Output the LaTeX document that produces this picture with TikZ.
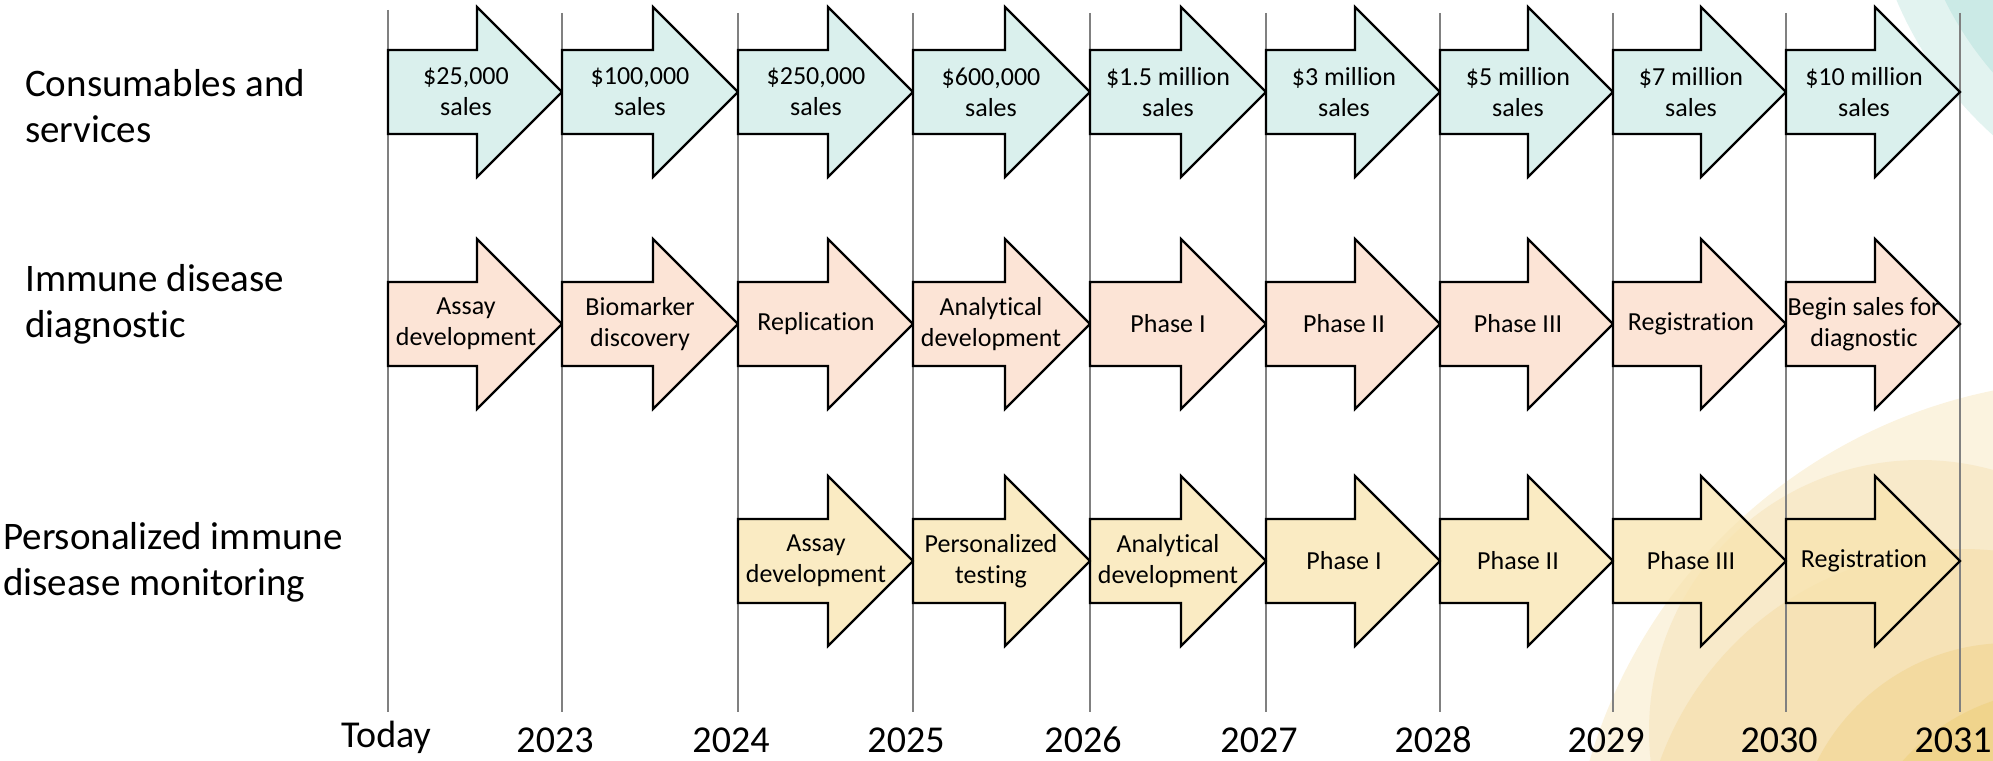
\documentclass[tikz,border=0pt]{standalone}
\usepackage{fontspec}
\setmainfont{Carlito}[Ligatures=NoCommon]
\definecolor{gridgray}{RGB}{128,128,128}
\definecolor{tealbox}{RGB}{218,240,237}
\definecolor{peachbox}{RGB}{252,228,214}
\definecolor{yellowbox}{RGB}{248,228,175}
\definecolor{tealringA}{RGB}{226,243,240}
\definecolor{tealringB}{RGB}{203,234,230}
\definecolor{sunA}{RGB}{251,243,223}
\definecolor{sunB}{RGB}{248,234,202}
\definecolor{sunC}{RGB}{246,226,182}
\definecolor{sunD}{RGB}{243,218,160}
\definecolor{sunE}{RGB}{240,212,140}
\begin{document}
\begin{tikzpicture}[x=1pt,y=-1pt,
  gridline/.style={draw=gridgray,line width=1.5pt},
  arrowline/.style={draw=black,line width=2.2pt,line join=miter},
  tealfill/.style={fill=tealbox},
  peachfill/.style={fill=peachbox},
  yellowfill/.style={fill=yellowbox,fill opacity=0.75},
  arrowtext/.style={font=\fontsize{26}{31}\selectfont,align=center,inner sep=0pt},
  rowlabel/.style={font=\fontsize{39}{46}\selectfont,align=left,anchor=west,inner sep=0pt},
  yearlabel/.style={font=\fontsize{38}{44}\selectfont,anchor=base,inner sep=0pt}]

\useasboundingbox (0,0) rectangle (1993,760);

% soft background rings in the corners
\begin{scope}
  \clip (0,0) rectangle (1993,760);
  \fill[tealringA] (2250,-150) circle (384);
  \fill[tealringB] (2250,-150) circle (340);
  \fill[sunA] (2099,911) circle (531);
  \fill[sunB] (1920,731) circle (271);
  \fill[sunC] (1962,870) circle (321);
  \fill[sunD] (2009,858) circle (215);
  \fill[sunE] (2060,900) circle (210);
\end{scope}

% year grid lines
\foreach \gx/\gt in {388/10,562/13,738/13,913/13,1090/13,1266/13,1440/13,1613/13,1786/13,1960/13}
  \draw[gridline] (\gx,\gt) -- (\gx,712);

% one timeline step: name, left x, right x, centre y, fill, text
\newcommand\tlarrow[6]{%
  \draw[arrowline,#5] (#2,#4-42) -- (#3-85,#4-42) -- (#3-85,#4-85) -- (#3,#4)
    -- (#3-85,#4+85) -- (#3-85,#4+42) -- (#2,#4+42) -- cycle;
  \node[arrowtext] (#1) at (#2+78,#4) {#6};}

% consumables and services
\tlarrow{c1}{388}{562}{92}{tealfill}{\$25,000\\sales}
\tlarrow{c2}{562}{738}{92}{tealfill}{\$100,000\\sales}
\tlarrow{c3}{738}{913}{92}{tealfill}{\$250,000\\sales}
\tlarrow{c4}{913}{1090}{92}{tealfill}{\$600,000\\sales}
\tlarrow{c5}{1090}{1266}{92}{tealfill}{\$1.5 million\\sales}
\tlarrow{c6}{1266}{1440}{92}{tealfill}{\$3 million\\sales}
\tlarrow{c7}{1440}{1613}{92}{tealfill}{\$5 million\\sales}
\tlarrow{c8}{1613}{1786}{92}{tealfill}{\$7 million\\sales}
\tlarrow{c9}{1786}{1960}{92}{tealfill}{\$10 million\\sales}

% immune disease diagnostic
\tlarrow{d1}{388}{562}{324}{peachfill}{Assay\\development}
\tlarrow{d2}{562}{738}{324}{peachfill}{Biomarker\\discovery}
\tlarrow{d3}{738}{913}{324}{peachfill}{Replication}
\tlarrow{d4}{913}{1090}{324}{peachfill}{Analytical\\development}
\tlarrow{d5}{1090}{1266}{324}{peachfill}{Phase I}
\tlarrow{d6}{1266}{1440}{324}{peachfill}{Phase II}
\tlarrow{d7}{1440}{1613}{324}{peachfill}{Phase III}
\tlarrow{d8}{1613}{1786}{324}{peachfill}{Registration}
\tlarrow{d9}{1786}{1960}{324}{peachfill}{Begin sales for\\diagnostic}

% personalized immune disease monitoring
\tlarrow{m3}{738}{913}{561}{yellowfill}{Assay\\development}
\tlarrow{m4}{913}{1090}{561}{yellowfill}{Personalized\\testing}
\tlarrow{m5}{1090}{1266}{561}{yellowfill}{Analytical\\development}
\tlarrow{m6}{1266}{1440}{561}{yellowfill}{Phase I}
\tlarrow{m7}{1440}{1613}{561}{yellowfill}{Phase II}
\tlarrow{m8}{1613}{1786}{561}{yellowfill}{Phase III}
\tlarrow{m9}{1786}{1960}{561}{yellowfill}{Registration}

% row headings
\node[rowlabel] (rcons) at (25,106) {Consumables and\\services};
\node[rowlabel] (rdiag) at (25,304) {Immune disease\\diagnostic};
\node[rowlabel] (rmon) at (3,562) {Personalized immune\\disease monitoring};

% time axis labels
\node[yearlabel] (yToday) at (386,747) {Today};
\node[yearlabel] (y2023) at (555,752) {2023};
\node[yearlabel] (y2024) at (731,752) {2024};
\node[yearlabel] (y2025) at (906,752) {2025};
\node[yearlabel] (y2026) at (1083,752) {2026};
\node[yearlabel] (y2027) at (1259,752) {2027};
\node[yearlabel] (y2028) at (1433,752) {2028};
\node[yearlabel] (y2029) at (1606,752) {2029};
\node[yearlabel] (y2030) at (1779,752) {2030};
\node[yearlabel] (y2031) at (1953,752) {2031};
\end{tikzpicture}
\end{document}
